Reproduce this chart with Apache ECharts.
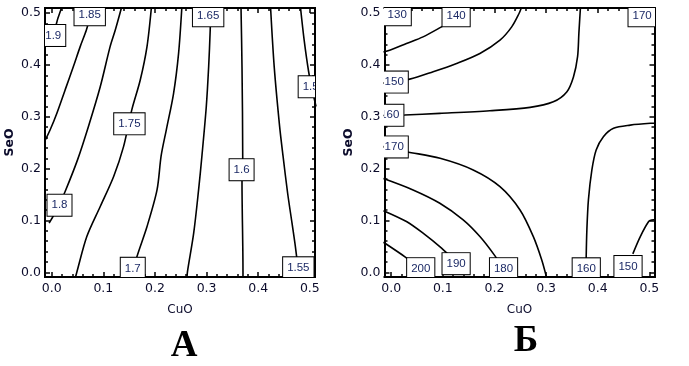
<!DOCTYPE html>
<html><head><meta charset="utf-8">
<script src="https://cdn.jsdelivr.net/npm/echarts@6/dist/echarts.min.js"></script>
<style>html,body{margin:0;padding:0;background:#fff}#c{width:689px;height:366px}</style>
</head><body><div id="c"></div>
<script>
// ---- tick values ----
const majorTicks = [0, 0.1, 0.2, 0.3, 0.4, 0.5];
const minorTicks = [0.02,0.04,0.06,0.08,0.12,0.14,0.16,0.18,0.22,0.24,0.26,0.28,0.32,0.34,0.36,0.38,0.42,0.44,0.46,0.48];
const XMIN = -0.013, XMAX = 0.51, YMIN = -0.009, YMAX = 0.51;

// ---- Panel A contour lines [CuO, SeO] ----
const A_190 = [[-0.012,0.44],[-0.002,0.455],[0.006,0.47],[0.012,0.49],[0.019,0.51]];
const A_185 = [[0.078,0.51],[0.072,0.485],[0.067,0.467],[0.055,0.435],[0.042,0.397],[0.026,0.352],[0.010,0.307],[-0.003,0.275],[-0.015,0.25]];
const A_180 = [[0.135,0.51],[0.123,0.467],[0.113,0.435],[0.094,0.358],[0.071,0.281],[0.050,0.217],[0.026,0.156],[0.012,0.125],[-0.005,0.095]];
const A_175 = [[0.193,0.51],[0.1845,0.435],[0.1715,0.371],[0.155,0.313],[0.139,0.242],[0.12,0.185],[0.094,0.127],[0.068,0.069],[0.049,0.0015],[0.046,-0.01]];
const A_170 = [[0.252,0.51],[0.2457,0.422],[0.236,0.345],[0.222,0.275],[0.212,0.225],[0.204,0.159],[0.1845,0.088],[0.165,0.030],[0.155,-0.01]];
const A_165 = [[0.308,0.51],[0.307,0.467],[0.304,0.3965],[0.2994,0.3195],[0.291,0.225],[0.2845,0.159],[0.275,0.0755],[0.263,0.0015],[0.262,-0.01]];
const A_160 = [[0.3667,0.51],[0.3686,0.3965],[0.37,0.223],[0.3686,0.175],[0.3705,0.0015],[0.3705,-0.01]];
const A_155 = [[0.424,0.51],[0.431,0.3965],[0.4415,0.281],[0.448,0.225],[0.457,0.1526],[0.4655,0.0948],[0.472,0.0497],[0.478,0.0]];
const A_150 = [[0.482,0.51],[0.489,0.448],[0.4977,0.387],[0.505,0.35],[0.512,0.32]];
const A_lines = [A_190, A_185, A_180, A_175, A_170, A_165, A_160, A_155, A_150];
const A_labelPos = [[0.003,0.457],[0.0736,0.497],[0.0151,0.1295],[0.1505,0.2865],[0.157,0.0077],[0.303,0.495],[0.3678,0.198],[0.4777,0.0087],[0.5016,0.358]];
const A_labelText = ['1.9','1.85','1.8','1.75','1.7','1.65','1.6','1.55','1.5'];

// ---- Panel B contour lines [CuO, SeO] ----
const B_140 = [[-0.015,0.425],[-0.003,0.4287],[0.0295,0.4416],[0.0617,0.4543],[0.0975,0.4736],[0.126,0.49]];
const B_150 = [[-0.015,0.365],[0.0359,0.3728],[0.0812,0.387],[0.1266,0.403],[0.1718,0.4223],[0.2107,0.448],[0.2334,0.4736],[0.2476,0.4994],[0.252,0.51]];
const B_160a = [[-0.015,0.3025],[0.026,0.3035],[0.094,0.3067],[0.191,0.3118],[0.269,0.3183],[0.314,0.329],[0.340,0.348],[0.353,0.377],[0.361,0.416],[0.3635,0.461],[0.3665,0.51]];
const B_170 = [[-0.015,0.2425],[0.0295,0.2328],[0.0947,0.22],[0.1588,0.1975],[0.2107,0.1653],[0.2495,0.1204],[0.2753,0.069],[0.2916,0.024],[0.301,-0.01]];
const B_180 = [[-0.015,0.181],[0.0423,0.159],[0.0942,0.1333],[0.1394,0.1012],[0.1718,0.069],[0.201,0.0318],[0.215,0.01]];
const B_190 = [[-0.015,0.119],[0.0295,0.098],[0.0617,0.0755],[0.0975,0.0466],[0.12,0.025]];
const B_200 = [[-0.015,0.058],[0.028,0.029],[0.05,0.012]];
const B_160b = [[0.512,0.2877],[0.502,0.2875],[0.463,0.284],[0.4307,0.2778],[0.411,0.2617],[0.397,0.236],[0.3887,0.1975],[0.382,0.1397],[0.379,0.0819],[0.3777,0.030],[0.3775,0.0]];
const B_150b = [[0.468,0.0356],[0.4825,0.069],[0.4987,0.098],[0.505,0.101],[0.512,0.102]];
const B_lines = [B_140, B_150, B_160a, B_170, B_180, B_190, B_200, B_160b, B_150b];
const B_labelPos = [[0.0116,0.497],[0.1257,0.495],[0.486,0.495],[0.0058,0.367],[-0.0027,0.303],[0.0058,0.242],[0.0572,0.0071],[0.1257,0.0168],[0.2176,0.0071],[0.3778,0.0067],[0.4587,0.0112]];
const B_labelText = ['130','140','170','150','160','170','200','190','180','160','150'];

const panelLabels = ['А', 'Б'];
const xName = 'CuO', yName = 'SeO';

const TXT = '#0c0c2c';
const grids = [
  {left: 45, top: 8, width: 270, height: 269},
  {left: 384.5, top: 8, width: 270, height: 269}
];
const lineBase = {show: true, onZero: false, lineStyle: {color: '#000', width: 2}};
function tickMaj(){ return {show: true, inside: true, length: 5, customValues: majorTicks, lineStyle: {color: '#000', width: 1.5}}; }
function tickMin(){ return {show: true, inside: true, length: 3, customValues: minorTicks, lineStyle: {color: '#000', width: 1.5}}; }
const xAxes = [], yAxes = [];
for (let g = 0; g < 2; g++) {
  const bx = {gridIndex: g, type: 'value', min: XMIN, max: XMAX, splitLine: {show: false}, axisLine: lineBase};
  const by = {gridIndex: g, type: 'value', min: YMIN, max: YMAX, splitLine: {show: false}, axisLine: lineBase};
  xAxes.push(Object.assign({}, bx, {position: 'bottom', axisTick: tickMaj(),
    axisLabel: {show: true, customValues: majorTicks, formatter: v => v.toFixed(1), margin: 5, color: TXT, fontFamily: 'DejaVu Sans', fontSize: 12.5},
    name: xName, nameLocation: 'middle', nameGap: 27, nameTextStyle: {color: TXT, fontFamily: 'DejaVu Sans', fontSize: 12}}));
  xAxes.push(Object.assign({}, bx, {position: 'bottom', axisTick: tickMin(), axisLabel: {show: false}}));
  xAxes.push(Object.assign({}, bx, {position: 'top', axisTick: tickMaj(), axisLabel: {show: false}}));
  xAxes.push(Object.assign({}, bx, {position: 'top', axisTick: tickMin(), axisLabel: {show: false}}));
  yAxes.push(Object.assign({}, by, {position: 'left', axisTick: tickMaj(),
    axisLabel: {show: true, customValues: majorTicks, formatter: v => v.toFixed(1), margin: 4, color: TXT, fontFamily: 'DejaVu Sans', fontSize: 12.5},
    name: yName, nameLocation: 'middle', nameGap: 29, nameTextStyle: {color: TXT, fontFamily: 'DejaVu Sans', fontSize: 12.5, fontWeight: 'bold'}}));
  yAxes.push(Object.assign({}, by, {position: 'left', axisTick: tickMin(), axisLabel: {show: false}}));
  yAxes.push(Object.assign({}, by, {position: 'right', axisTick: tickMaj(), axisLabel: {show: false}}));
  yAxes.push(Object.assign({}, by, {position: 'right', axisTick: tickMin(), axisLabel: {show: false}}));
}

const series = [];
function addPanel(lines, labelPos, labelText, axisIdx) {
  lines.forEach(pts => series.push({
    type: 'line', xAxisIndex: axisIdx, yAxisIndex: axisIdx, data: pts, showSymbol: false, symbol: 'none',
    smooth: 0.3, silent: true, clip: true, lineStyle: {color: '#000', width: 1.6}, z: 2
  }));
  series.push({
    type: 'custom', coordinateSystem: 'cartesian2d', xAxisIndex: axisIdx, yAxisIndex: axisIdx,
    data: labelPos, encode: {x: 0, y: 1}, clip: true, silent: true, z: 3,
    renderItem: function (params, api) {
      const p = api.coord([api.value(0), api.value(1)]);
      return {type: 'text', x: p[0], y: p[1], style: {
        text: labelText[params.dataIndex], fill: '#1c2a66', font: '11.5px "Liberation Sans", Arial',
        align: 'center', verticalAlign: 'middle', backgroundColor: '#fff', borderColor: '#000', borderWidth: 1, padding: [5, 4, 4, 4]
      }};
    }
  });
}
addPanel(A_lines, A_labelPos, A_labelText, 0);
addPanel(B_lines, B_labelPos, B_labelText, 4);

const chart = echarts.init(document.getElementById('c'), null, {renderer: 'canvas'});
chart.setOption({
  animation: false,
  backgroundColor: '#fff',
  grid: grids,
  xAxis: xAxes,
  yAxis: yAxes,
  series: series,
  graphic: [
    {type: 'text', x: 184, y: 346, style: {text: panelLabels[0], font: 'bold 37px "Liberation Serif", "Times New Roman", serif', fill: '#000', align: 'center', verticalAlign: 'middle'}},
    {type: 'text', x: 526, y: 341, style: {text: panelLabels[1], font: 'bold 37px "Liberation Serif", "Times New Roman", serif', fill: '#000', align: 'center', verticalAlign: 'middle'}}
  ]
});
</script></body></html>
